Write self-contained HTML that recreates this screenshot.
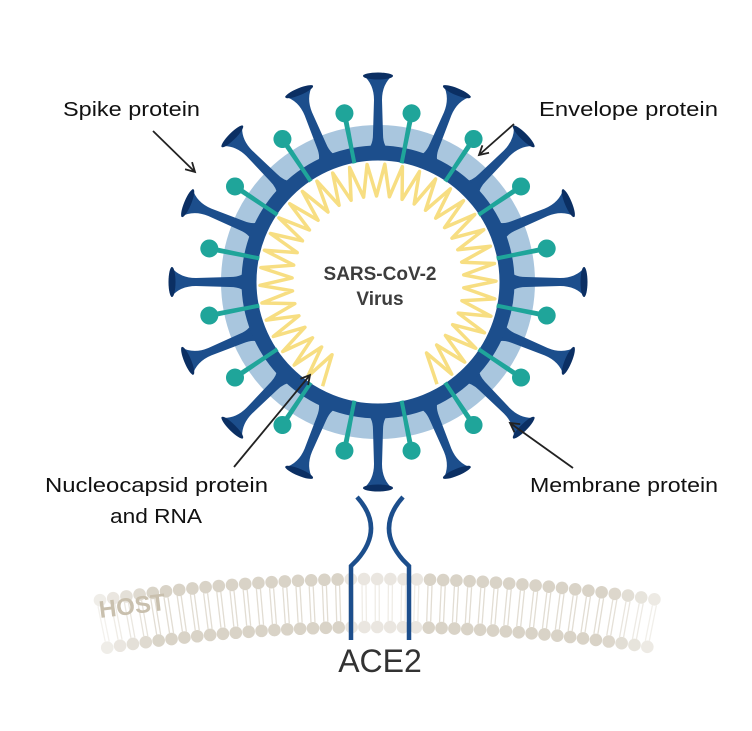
<!DOCTYPE html>
<html><head><meta charset="utf-8"><style>
html,body{margin:0;padding:0;background:#fff;width:752px;height:731px;overflow:hidden}
svg{display:block}
text{font-family:"Liberation Sans",sans-serif}
</style></head><body>
<svg id="s" width="752" height="731" viewBox="0 0 752 731" xmlns="http://www.w3.org/2000/svg">
<defs>
<marker id="ah" markerWidth="12" markerHeight="12" refX="10" refY="6" orient="auto" markerUnits="userSpaceOnUse">
<path d="M1,1 L10,6 L1,11" fill="none" stroke="#222" stroke-width="1.8"/>
</marker>
</defs>
<g id="mem"></g>
<text x="100" y="618" font-size="24" font-weight="bold" fill="#c9c0ae" transform="rotate(-7 100 618)">HOST</text>
<g fill="none" stroke="#1c4e8c" stroke-width="4.5">
<path d="M357,497 Q385,528 357,560 L351,566 L351,640"/>
<path d="M403,497 Q375,528 403,560 L409,566 L409,640"/>
</g>
<circle cx="378" cy="282" r="146" fill="none" stroke="#a9c6de" stroke-width="22"/>
<g id="teal"></g>
<g id="spk"></g>
<circle cx="378" cy="282" r="129" fill="none" stroke="#1c4e8c" stroke-width="15"/>
<g id="tealstem"></g>
<path id="rna" fill="none" stroke="#f7de82" stroke-width="3.5" stroke-linejoin="round"/>
<text x="380" y="280" font-size="19" font-weight="bold" fill="#3d3d3d" text-anchor="middle">SARS-CoV-2</text>
<text x="380" y="305" font-size="19" font-weight="bold" fill="#3d3d3d" text-anchor="middle">Virus</text>
<g font-size="20" fill="#111">
<text x="63" y="116" textLength="137" lengthAdjust="spacingAndGlyphs">Spike protein</text>
<text x="539" y="116" textLength="179" lengthAdjust="spacingAndGlyphs">Envelope protein</text>
<text x="45" y="492" textLength="223" lengthAdjust="spacingAndGlyphs">Nucleocapsid protein</text>
<text x="110" y="523" textLength="92" lengthAdjust="spacingAndGlyphs">and RNA</text>
<text x="530" y="492" textLength="188" lengthAdjust="spacingAndGlyphs">Membrane protein</text>
</g>
<text x="380" y="672" font-size="32" fill="#333" text-anchor="middle">ACE2</text>
<g stroke="#222" stroke-width="1.8" marker-end="url(#ah)">
<line x1="153" y1="131" x2="195" y2="172"/>
<line x1="514" y1="124" x2="479" y2="155"/>
<line x1="234" y1="467" x2="310" y2="375"/>
<line x1="573" y1="468" x2="510" y2="423"/>
</g>
</svg>
<script>
var NS="http://www.w3.org/2000/svg",cx=378,cy=282;
function el(p,t,a){var e=document.createElementNS(NS,t);for(var k in a)e.setAttribute(k,a[k]);p.appendChild(e);return e;}
var spk=document.getElementById('spk'),teal=document.getElementById('teal'),ts=document.getElementById('tealstem');
for(var i=0;i<16;i++){
 var a=i*22.5;
 var g=el(spk,'g',{transform:'translate('+cx+','+cy+') rotate('+a+')'});
 el(g,'path',{d:'M-14,-130 Q-5,-134 -5,-148 L-4,-182 Q-4,-198 -15,-207 L15,-207 Q4,-198 4,-182 L5,-148 Q5,-134 14,-130 Z',fill:'#1c4e8c'});
 el(g,'ellipse',{cx:0,cy:-206,rx:15,ry:3.5,fill:'#0b2f63'});
 var b=a+11.25;
 var g2=el(teal,'g',{transform:'translate('+cx+','+cy+') rotate('+b+')'});
 el(g2,'path',{d:'M-2,-125 L-2.5,-165 L2.5,-165 L2,-125 Z',fill:'#1fa59a'});
 el(g2,'circle',{cx:0,cy:-172,r:9,fill:'#1fa59a'});
 var g3=el(ts,'g',{transform:'translate('+cx+','+cy+') rotate('+b+')'});
 el(g3,'rect',{x:-2,y:-137,width:4,height:16,fill:'#1fa59a'});
}
var d='',n=70,s=118,e=420;
for(var k=0;k<=n;k++){
 var t=(s+(e-s)*k/n)*Math.PI/180,r=(k%2?86:118);
 var x=cx+r*Math.cos(t),y=cy+r*Math.sin(t);
 d+=(k?'L':'M')+x.toFixed(1)+','+y.toFixed(1);
}
document.getElementById('rna').setAttribute('d',d);
var m=document.getElementById('mem'),R=1860,mcx=380,mcy=579+R;
for(var x=100;x<=662;x+=13.2){
 var dx=x-mcx,ang=Math.asin(dx/R);
 var op=1;var fe=Math.min(x-95,665-x);if(fe<60)op=0.35+0.65*fe/60;
 if(Math.abs(dx)<40)op*=0.55;
 var sx=Math.sin(ang),cy1=Math.cos(ang);
 var x1=mcx+R*sx,y1=mcy-R*cy1,x2=mcx+(R-48)*sx,y2=mcy-(R-48)*cy1;
 var g=el(m,'g',{opacity:op});
 el(g,'line',{x1:x1-2,y1:y1+6,x2:x2-2,y2:y2-6,stroke:'#e2ddd3','stroke-width':1.3});
 el(g,'line',{x1:x1+2,y1:y1+6,x2:x2+2,y2:y2-6,stroke:'#e2ddd3','stroke-width':1.3});
 el(g,'circle',{cx:x1,cy:y1,r:6.3,fill:'#d9d3c7'});
 el(g,'circle',{cx:x2,cy:y2,r:6.3,fill:'#d9d3c7'});
}
</script>
</body></html>
